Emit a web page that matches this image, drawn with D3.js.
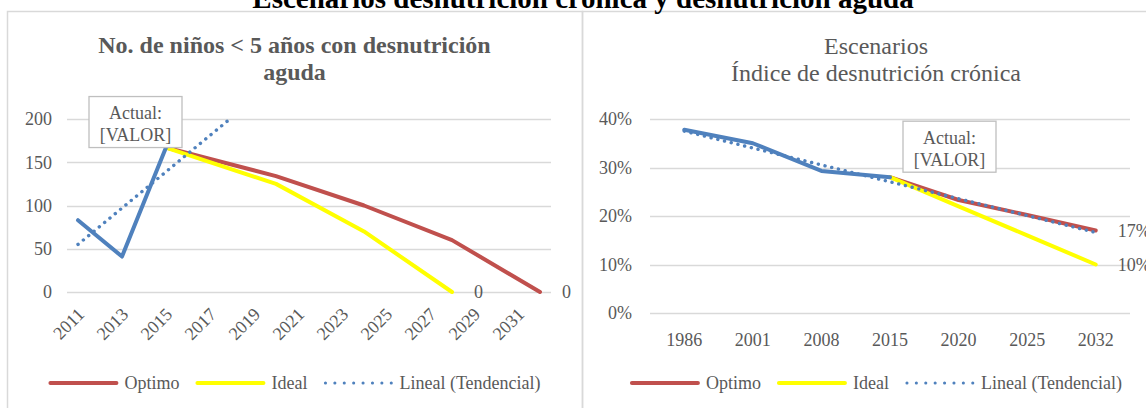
<!DOCTYPE html>
<html>
<head>
<meta charset="utf-8">
<script src="https://cdn.jsdelivr.net/npm/d3@7"></script>
<style>
body { margin: 0; background: #fff; }
svg text { font-family: "Liberation Serif", "Times New Roman", serif; }
</style>
</head>
<body>
<div id="svgcontainer"></div>
<script>
// --- datos: niños < 5 años con desnutrición aguda
const leftYears = ["2011", "2012", "2013", "2014", "2015", "2016", "2017", "2018", "2019", "2020", "2021",
    "2022", "2023", "2024", "2025", "2026", "2027", "2028", "2029", "2030", "2031", "2032"];
const leftTickLabels = ["2011", "2013", "2015", "2017", "2019", "2021", "2023", "2025", "2027", "2029", "2031"];
const leftYTicks = [0, 50, 100, 150, 200];
const leftActual = [["2011", 83], ["2013", 41], ["2015", 167]];
const leftOptimo = [["2015", 167], ["2020", 134], ["2024", 100], ["2028", 60], ["2032", 0]];
const leftIdeal = [["2015", 167], ["2020", 125], ["2024", 70], ["2028", 0]];
const leftTrend = [["2011", 55], ["2018", 202]];

// --- datos: índice de desnutrición crónica
const rightYears = ["1986", "2001", "2008", "2015", "2020", "2025", "2032"];
const rightYTicks = [0, 0.1, 0.2, 0.3, 0.4];
const rightActual = [["1986", 0.378], ["2001", 0.350], ["2008", 0.293], ["2015", 0.280]];
const rightOptimo = [["2015", 0.280], ["2020", 0.233], ["2025", 0.202], ["2032", 0.170]];
const rightIdeal = [["2015", 0.280], ["2020", 0.220], ["2025", 0.160], ["2032", 0.100]];
const rightTrend = [["1986", 0.375], ["2032", 0.166]];

const legendNames = ["Optimo", "Ideal", "Lineal (Tendencial)"];

const red = "#C0504D", yellow = "#FFFF00", blue = "#4F81BD", grey = "#595959", grid = "#D9D9D9";

let svg = d3.select("#svgcontainer")
    .append("svg")
    .attr("width", 1146)
    .attr("height", 408);

svg.append("rect").attr("width", 1146).attr("height", 408).style("fill", "#fff");

let drawChart = (c) => {
    let g = svg.append("g");
    // marco
    g.append("rect")
        .attr("x", c.boxX + 0.5).attr("y", 11.5)
        .attr("width", c.boxW).attr("height", 420)
        .style("fill", "none").style("stroke", grid).style("stroke-width", 1.5);

    let x = d3.scaleBand().domain(c.cats).range([c.left, c.right]).padding(0);
    let bw = x.bandwidth();
    let cx = (k) => x(k) + bw / 2;
    let y = d3.scaleLinear().domain(c.yDomain).range([c.bottom, c.top]);

    // titulo
    let title = g.append("text")
        .attr("x", c.boxX + c.boxW / 2)
        .attr("text-anchor", "middle")
        .style("font-size", "24px")
        .style("font-weight", c.titleBold ? "bold" : "normal")
        .style("fill", grey);
    c.title.forEach((t, i) => {
        title.append("tspan").attr("x", c.boxX + c.boxW / 2).attr("y", c.titleY + i * 27).text(t);
    });

    // grilla
    g.selectAll(".grid")
        .data(c.yTicks)
        .enter()
        .append("line")
        .attr("x1", c.left).attr("x2", c.right)
        .attr("y1", (d) => Math.round(y(d)) + 0.5).attr("y2", (d) => Math.round(y(d)) + 0.5)
        .style("stroke", grid).style("stroke-width", 1.3);

    g.selectAll(".ylab")
        .data(c.yTicks)
        .enter()
        .append("text")
        .attr("x", c.left - c.yLabGap)
        .attr("y", (d) => y(d))
        .attr("dy", "0.35em")
        .attr("text-anchor", "end")
        .style("font-size", "18px")
        .style("fill", grey)
        .text(c.yFormat);

    // etiquetas eje x
    if(c.rotate) {
        g.selectAll(".xlab")
            .data(c.xTicks)
            .enter()
            .append("text")
            .attr("transform", (d) => "translate(" + (cx(d) + 3) + "," + (c.bottom + 19) + ") rotate(-45)")
            .attr("text-anchor", "end")
            .attr("dy", "0.35em")
            .style("font-size", "18px")
            .style("fill", grey)
            .text((d) => d);
    } else {
        g.selectAll(".xlab")
            .data(c.xTicks)
            .enter()
            .append("text")
            .attr("x", (d) => cx(d))
            .attr("y", c.bottom + 33)
            .attr("text-anchor", "middle")
            .style("font-size", "18px")
            .style("fill", grey)
            .text((d) => d);
    }

    let line = d3.line().x((d) => cx(d[0])).y((d) => y(d[1]));

    let clipId = "clip" + c.boxX;
    svg.append("clipPath").attr("id", clipId)
        .append("rect")
        .attr("x", c.left - 10).attr("y", c.top)
        .attr("width", c.right - c.left + 20).attr("height", c.bottom - c.top + 10);

    let series = [
        {data: c.optimo, color: red},
        {data: c.ideal, color: yellow},
        {data: c.actual, color: blue}
    ];
    series.forEach((s) => {
        g.append("path")
            .attr("d", line(s.data))
            .style("fill", "none")
            .style("stroke", s.color)
            .style("stroke-width", 4)
            .style("stroke-linejoin", "round")
            .style("stroke-linecap", "round");
    });

    g.append("path")
        .attr("clip-path", "url(#" + clipId + ")")
        .attr("d", line(c.trend))
        .style("fill", "none")
        .style("stroke", blue)
        .style("stroke-width", 3.4)
        .style("stroke-dasharray", "0.1 6.8")
        .style("stroke-linecap", "round");

    // etiquetas de datos
    c.labels.forEach((p) => {
        g.append("text")
            .attr("x", cx(p[0]) + 22)
            .attr("y", y(p[1]))
            .attr("dy", "0.35em")
            .style("font-size", "18px")
            .style("fill", grey)
            .text(c.yFormat(p[1]));
    });

    // cuadro "Actual"
    let bx = cx(c.callout[0]) + c.calloutDx;
    let by = y(c.callout[1]) + c.calloutDy;
    g.append("rect")
        .attr("x", bx).attr("y", by)
        .attr("width", 93).attr("height", 51)
        .style("fill", "#fff").style("stroke", "#BFBFBF").style("stroke-width", 1.3);
    g.append("text")
        .attr("x", bx + 46.5).attr("y", by + 16).attr("dy", "0.35em")
        .attr("text-anchor", "middle")
        .style("font-size", "18px").style("fill", grey)
        .text("Actual:");
    g.append("text")
        .attr("x", bx + 46.5).attr("y", by + 38).attr("dy", "0.35em")
        .attr("text-anchor", "middle")
        .style("font-size", "18px").style("fill", grey)
        .text("[VALOR]");

    // leyenda
    let leg = g.append("g");
    let pos = 0;
    let styles = [
        {color: red, dash: null},
        {color: yellow, dash: null},
        {color: blue, dash: "0.1 9.3"}
    ];
    legendNames.forEach((name, i) => {
        leg.append("line")
            .attr("x1", pos + 2).attr("x2", pos + 68)
            .attr("y1", 0).attr("y2", 0)
            .style("stroke", styles[i].color)
            .style("stroke-width", styles[i].dash ? 3 : 4)
            .style("stroke-dasharray", styles[i].dash)
            .style("stroke-linecap", "round");
        let t = leg.append("text")
            .attr("x", pos + 76).attr("y", 0).attr("dy", "0.35em")
            .style("font-size", "18px").style("fill", grey)
            .text(name);
        pos = pos + 76 + t.node().getComputedTextLength() + 16;
    });
    let legW = pos - 16;
    leg.attr("transform", "translate(" + (c.boxX + c.boxW / 2 - legW / 2) + "," + 383 + ")");
};

drawChart({
    boxX: 7, boxW: 575,
    title: ["No. de niños < 5 años con desnutrición", "aguda"], titleBold: true, titleY: 53,
    cats: leftYears, xTicks: leftTickLabels, rotate: true,
    left: 67, right: 551, top: 119, bottom: 292,
    yDomain: [0, 200], yTicks: leftYTicks, yLabGap: 15,
    yFormat: (d) => d3.format("d")(d),
    actual: leftActual, optimo: leftOptimo, ideal: leftIdeal, trend: leftTrend,
    labels: [leftIdeal[leftIdeal.length - 1], leftOptimo[leftOptimo.length - 1]],
    callout: ["2015", 167], calloutDx: -77, calloutDy: -51
});

drawChart({
    boxX: 582, boxW: 588,
    title: ["Escenarios", "Índice de desnutrición crónica"], titleBold: false, titleY: 54,
    cats: rightYears, xTicks: rightYears, rotate: false,
    left: 650, right: 1130, top: 119, bottom: 313,
    yDomain: [0, 0.4], yTicks: rightYTicks, yLabGap: 18,
    yFormat: (d) => d3.format(".0%")(d),
    actual: rightActual, optimo: rightOptimo, ideal: rightIdeal, trend: rightTrend,
    labels: [rightOptimo[rightOptimo.length - 1], rightIdeal[rightIdeal.length - 1]],
    callout: ["2015", 0.28], calloutDx: 13, calloutDy: -56
});

// titulo general (cortado arriba)
svg.append("text")
    .attr("x", 583)
    .attr("y", 8)
    .attr("text-anchor", "middle")
    .style("font-size", "29px")
    .style("font-weight", "bold")
    .style("fill", "#000")
    .text("Escenarios desnutrición crónica y desnutrición aguda");
</script>
</body>
</html>
